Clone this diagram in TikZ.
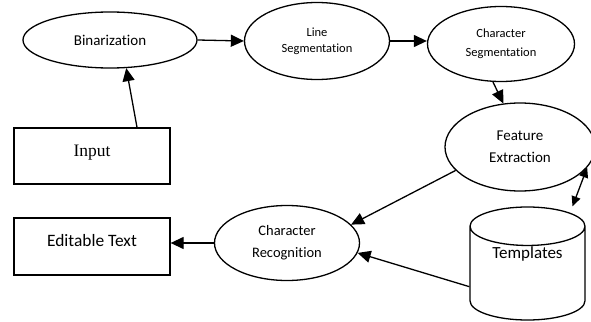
\documentclass[tikz,border=0pt]{standalone}
\usepackage{fontspec}
\setmainfont{Carlito}[Ligatures=NoCommon]
\newfontfamily\inputfont{Liberation Serif}
\usetikzlibrary{arrows.meta,shapes.geometric}
\tikzstyle{stage} = [draw, ellipse, line width=1.3pt, align=center, inner sep=0pt]
\tikzstyle{iobox} = [draw, rectangle, line width=1.3pt, minimum width=156pt, minimum height=56pt, text height=12pt, text depth=12pt]
\tikzstyle{arrow} = [line width=1.3pt, -{Triangle[length=13pt,width=12pt]}]
\tikzstyle{dblarrow} = [line width=1.3pt, {Triangle[length=10pt,width=9pt]}-{Triangle[length=10pt,width=9pt]}]

\begin{document}
\begin{tikzpicture}[x=1pt, y=-1pt]
\clip (0,0) rectangle (591,321);
% Stages
\node[stage, minimum width=174pt, minimum height=56pt, font=\fontsize{15}{18}\selectfont] (bin) at (110,40) {Binarization};
\node[stage, minimum width=145pt, minimum height=77pt, font=\fontsize{12.5}{16}\selectfont] (lineseg) at (317,41) {Line\\Segmentation};
\node[stage, minimum width=147pt, minimum height=75pt, font=\fontsize{12.5}{19}\selectfont] (charseg) at (501,44) {Character\\Segmentation};
\node[stage, minimum width=150pt, minimum height=88pt, font=\fontsize{15}{22}\selectfont] (feat) at (520,147) {Feature\\Extraction};
\node[stage, minimum width=145pt, minimum height=75pt, font=\fontsize{14.5}{22}\selectfont] (charrec) at (287,243) {Character\\Recognition};

% Input and output
\node[iobox, font=\inputfont\fontsize{17.5}{20}\selectfont] (input) at (92,156) {Input};
\node[iobox, minimum height=57pt, font=\fontsize{17.4}{20}\selectfont] (edit) at (92,246.5) {Editable Text};

% Templates store
\node[draw, cylinder, shape border rotate=90, aspect=0.5, anchor=shape center, line width=1.3pt, minimum width=115pt, minimum height=113pt, text height=8pt, text depth=45pt, font=\fontsize{17}{20}\selectfont] (tmpl) at (527.5,263.5) {Templates};

% Arrows
\draw[arrow] ([xshift=45pt]input.north) -- (bin.-60);
\draw[arrow] (bin.east) -- (lineseg.west);
\draw[arrow] (lineseg.east) -- (lineseg.east -| charseg.west);
\draw[arrow] (charseg.-102) -- (feat.111);
\draw[arrow] (feat.200) -- (charrec.16);
\draw[arrow] ([yshift=-10pt]tmpl.west) -- (charrec.-8);
\draw[arrow] (charrec.west) -- (charrec.west -| edit.east);
\draw[dblarrow] (feat.-17) -- ([xshift=45pt]tmpl.north);
\end{tikzpicture}
\end{document}
